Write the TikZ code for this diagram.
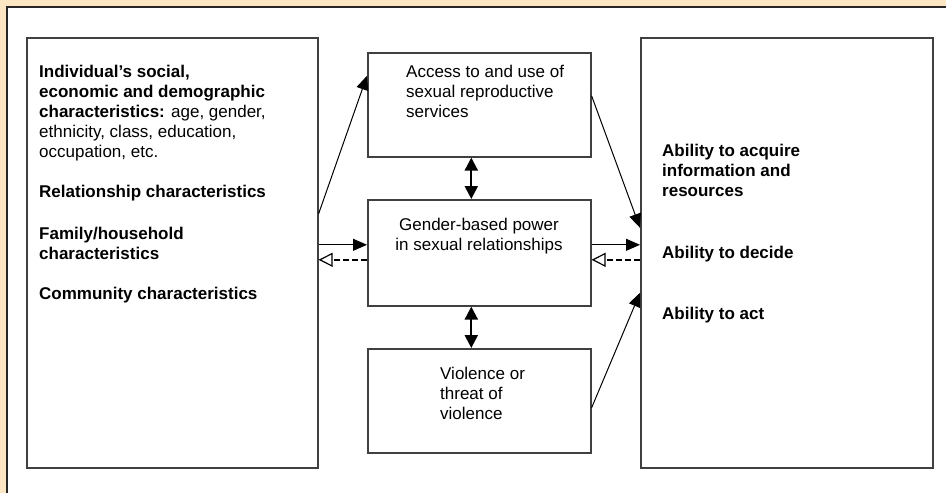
\documentclass[tikz,border=0pt]{standalone}
\usepackage{fontspec}
\setmainfont{Liberation Sans}
\usetikzlibrary{arrows.meta}
\definecolor{peach}{RGB}{253,230,196}

\begin{document}
\begin{tikzpicture}[x=1pt, y=-1pt,
  box/.style = {draw=black!75, line width=1.6pt, fill=white, rectangle, anchor=north west, inner sep=0pt},
  txt/.style = {anchor=north west, align=left, inner sep=0pt, font=\fontsize{17}{20}\selectfont},
  tip/.style = {-{Triangle[length=14pt,width=12pt]}, line width=1pt},
  dbl/.style = {{Triangle[length=13pt,width=13pt]}-{Triangle[length=13pt,width=13pt]}, line width=2.2pt},
  back/.style = {-{Triangle[open,length=14pt,width=14pt,line width=1.2pt]}, dash pattern=on 6pt off 3pt, line width=2.4pt}]
\useasboundingbox (0,0) rectangle (946,493);
% frame
\fill[peach] (0,0) rectangle (946,493);
\fill[white] (7,7) rectangle (946,493);
\draw[black!85, line width=2pt] (946,7) -- (7,7) -- (7,493);
% boxes
\node[box, minimum width=291pt, minimum height=430pt] (soc) at (26,37) {};
\node[box, minimum width=223pt, minimum height=104pt] (acc) at (367,52) {};
\node[box, minimum width=223pt, minimum height=106pt] (pow) at (367,199) {};
\node[box, minimum width=223pt, minimum height=104pt] (vio) at (367,348) {};
\node[box, minimum width=292pt, minimum height=430pt] (abl) at (640,37) {};
% left texts
\node[txt] (soc1) at (39,65) {\textbf{Individual's social,}\\ \textbf{economic and demographic}\\ \textbf{characteristics:} age, gender,\\ ethnicity, class, education,\\ occupation, etc.};
\node[txt, font=\fontsize{17}{20}\selectfont\bfseries] (rel) at (39,184.5) {Relationship characteristics};
\node[txt, font=\fontsize{17}{20}\selectfont\bfseries] (fam) at (39,226.5) {Family/household\\ characteristics};
\node[txt, font=\fontsize{17}{20}\selectfont\bfseries] (com) at (39,286.5) {Community characteristics};
% middle texts
\node[txt] (acc1) at (406,65) {Access to and use of\\ sexual reproductive\\ services};
\node[txt, anchor=north, align=center] (pow1) at (479,218) {Gender-based power\\ in sexual relationships};
\node[txt] (vio1) at (440,367) {Violence or\\ threat of\\ violence};
% right texts
\node[txt, font=\fontsize{17}{20}\selectfont\bfseries] (abl1) at (662,143.5) {Ability to acquire\\ information and\\ resources};
\node[txt, font=\fontsize{17}{20}\selectfont\bfseries] (dec) at (662,245.5) {Ability to decide};
\node[txt, font=\fontsize{17}{20}\selectfont\bfseries] (act) at (662,306.5) {Ability to act};
% arrows
\draw[tip] ([yshift=39pt]soc.east) -- ([yshift=29pt]acc.west);
\draw[tip] ([yshift=9pt]acc.east) -- ([yshift=25pt]abl.west);
\draw[tip] ([yshift=8pt]soc.east) -- ([yshift=8pt]pow.west);
\draw[back] ([yshift=-7pt]pow.west) -- ([yshift=-7pt]soc.east);
\draw[tip] ([yshift=8pt]pow.east) -- ([yshift=8pt]abl.west);
\draw[back] ([yshift=-7pt]abl.west) -- ([yshift=-7pt]pow.east);
\draw[tip] ([yshift=-7pt]vio.east) -- ([yshift=-40pt]abl.west);
\draw[dbl] ([xshift=-8pt]acc.south) -- ([xshift=-8pt]pow.north);
\draw[dbl] ([xshift=-8pt]pow.south) -- ([xshift=-8pt]vio.north);
\end{tikzpicture}
\end{document}
